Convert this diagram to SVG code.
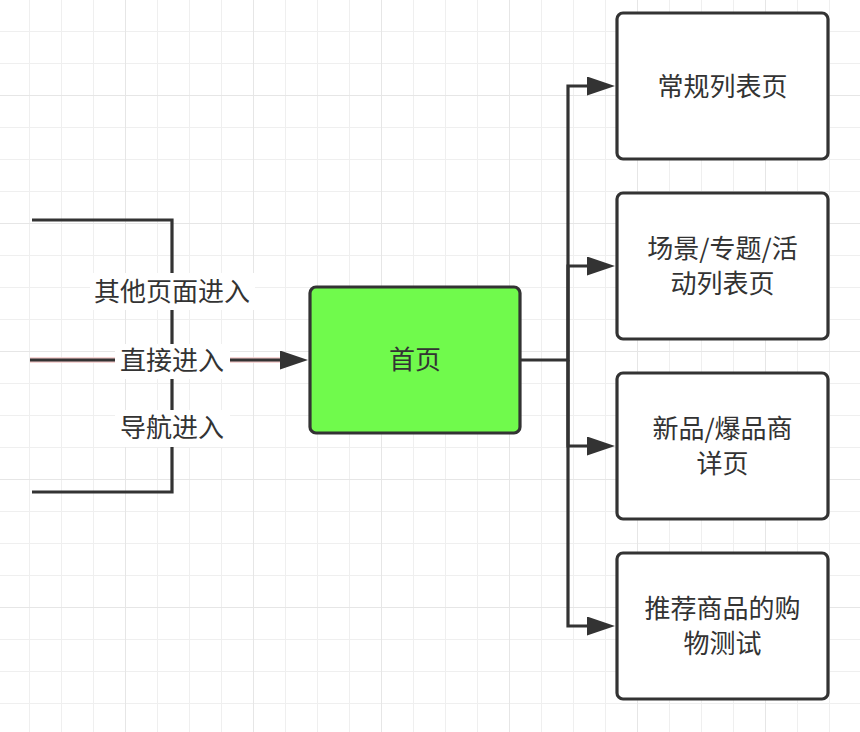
<svg xmlns="http://www.w3.org/2000/svg" width="860" height="732" viewBox="0 0 860 732">
<style>
.node{stroke:#333;stroke-width:3.2;}
.t{font-family:"Noto Sans CJK SC","Noto Sans",sans-serif;font-size:26px;fill:#333;text-anchor:middle;}
.c{fill:none;stroke:#333;stroke-width:3.2;}
.lbl{fill:#fff;}
</style>
<defs>
<pattern id="minor" x="29" y="31" width="32" height="32" patternUnits="userSpaceOnUse">
<rect x="0" y="0" width="32" height="1" fill="#efefef"/>
<rect x="0" y="0" width="1" height="32" fill="#efefef"/>
</pattern>
<pattern id="major" x="125" y="95" width="128" height="128" patternUnits="userSpaceOnUse">
<rect x="0" y="0" width="128" height="1" fill="#e6e6e6"/>
<rect x="0" y="0" width="1" height="128" fill="#e6e6e6"/>
</pattern>
<marker id="arr" markerUnits="userSpaceOnUse" markerWidth="30" markerHeight="20" refX="2" refY="9.5" orient="auto">
<path d="M0 0 L28 9.5 L0 19 Z" fill="#333"/>
</marker>
</defs>
<rect width="860" height="732" fill="#fff"/>
<rect width="860" height="732" fill="url(#minor)"/>
<rect width="860" height="732" fill="url(#major)"/>

<g id="connectors">
<path class="c" d="M32 220 H172 V492 H32"/>
<path d="M30 360 H282" fill="none" stroke="#f3c9c9" stroke-width="5.5"/>
<path class="c" d="M30 360 H282" marker-end="url(#arr)"/>
<path class="c" d="M521 360 H568 V86 H589" marker-end="url(#arr)"/>
<path class="c" d="M568 360 V266 H589" marker-end="url(#arr)"/>
<path class="c" d="M568 360 V446 H589" marker-end="url(#arr)"/>
<path class="c" d="M568 360 V626 H589" marker-end="url(#arr)"/>
</g>

<g id="labels">
<rect class="lbl" x="90" y="273" width="165" height="37"/>
<text class="t" x="172" y="301">其他页面进入</text>
<rect class="lbl" x="115" y="344" width="115" height="35"/>
<text class="t" x="172" y="370">直接进入</text>
<rect class="lbl" x="115" y="410" width="115" height="37"/>
<text class="t" x="172" y="437">导航进入</text>
</g>

<g id="home">
<rect class="node" x="310" y="287" width="210" height="146" rx="6" fill="#70fa4c"/>
<text class="t" x="415" y="369">首页</text>
</g>

<g id="node1">
<rect class="node" x="617" y="13" width="211" height="146" rx="6" fill="#fff"/>
<text class="t" x="722.5" y="96">常规列表页</text>
</g>

<g id="node2">
<rect class="node" x="617" y="193" width="211" height="146" rx="6" fill="#fff"/>
<text class="t" x="722.5" y="257.5">场景/专题/活</text>
<text class="t" x="722.5" y="292.5">动列表页</text>
</g>

<g id="node3">
<rect class="node" x="617" y="373" width="211" height="146" rx="6" fill="#fff"/>
<text class="t" x="722.5" y="437.5">新品/爆品商</text>
<text class="t" x="722.5" y="472.5">详页</text>
</g>

<g id="node4">
<rect class="node" x="617" y="553" width="211" height="146" rx="6" fill="#fff"/>
<text class="t" x="722.5" y="617.5">推荐商品的购</text>
<text class="t" x="722.5" y="652.5">物测试</text>
</g>
</svg>
